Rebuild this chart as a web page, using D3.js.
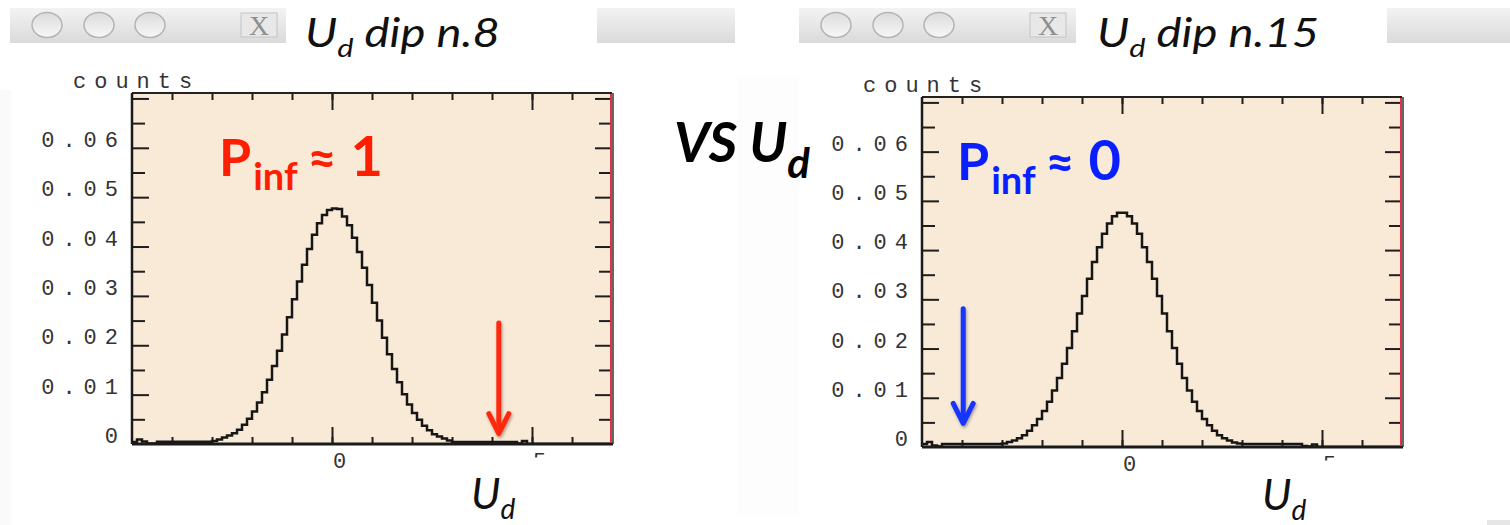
<!DOCTYPE html>
<html>
<head>
<meta charset="utf-8">
<script src="https://cdn.jsdelivr.net/npm/d3@7/dist/d3.min.js"></script>
<style>
  body { margin: 0; background: #fff; }
  svg { display: block; }
  .num { font-family: "Liberation Mono", "DejaVu Sans Mono", monospace; font-size: 22px; fill: #333; letter-spacing: 8px; }
  .tick line { stroke: #1e1e1e; stroke-width: 2; }
  .slide { font-family: Lato, "Open Sans", sans-serif; }
</style>
</head>
<body>
<svg id="chart" width="1510" height="525"></svg>
<script>
// histogram binning (x in U_d units)
var binStart = -5, binWidth = 0.125;

// normalised counts per bin, dip n.8
var countsDip8 = [
  0.0004, 0.0009, 0.0005, 0.0001, 0.0001,
  0.00045, 0.00045, 0.00045, 0.00045, 0.00045, 0.00045, 0.00045, 0.00045, 0.00045, 0.00045, 0.00045,
  0.0006, 0.0009, 0.0013, 0.0017, 0.0022, 0.0029, 0.0039, 0.0051, 0.0066, 0.0084, 0.0105, 0.0130,
  0.0158, 0.0189, 0.0222, 0.0257, 0.0293, 0.0329, 0.0363, 0.0395, 0.0424, 0.0447, 0.0464, 0.0474,
  0.0477, 0.0476, 0.0461, 0.0443, 0.0418, 0.0389, 0.0357, 0.0322, 0.0286, 0.0250, 0.0215, 0.0182,
  0.0152, 0.0125, 0.0101, 0.0080, 0.0063, 0.0049, 0.0037, 0.0028, 0.0020, 0.0015, 0.0011, 0.0007,
  0.0004, 0.0004, 0.0004, 0.0004, 0.0004, 0.0004, 0.0004, 0.0004, 0.0004, 0.0004, 0.0004, 0.0004, 0.0004,
  0.0001, 0.0006,
  0, 0, 0, 0, 0, 0, 0, 0, 0, 0, 0, 0, 0, 0, 0, 0, 0
];

// normalised counts per bin, dip n.15
var countsDip15 = [
  0.0006, 0.0010, 0.0003, 0.0001,
  0.0006, 0.0006, 0.0006, 0.0006, 0.0006, 0.0006, 0.0006, 0.0006, 0.0006, 0.0006, 0.0006, 0.0006,
  0.0007, 0.0010, 0.0013, 0.0018, 0.0024, 0.0033, 0.0044, 0.0057, 0.0073, 0.0092, 0.0115, 0.0140,
  0.0169, 0.0201, 0.0235, 0.0271, 0.0307, 0.0342, 0.0376, 0.0406, 0.0433, 0.0454, 0.0469, 0.0476,
  0.0476, 0.0469, 0.0454, 0.0433, 0.0406, 0.0376, 0.0342, 0.0307, 0.0271, 0.0235, 0.0201, 0.0169,
  0.0140, 0.0115, 0.0092, 0.0073, 0.0057, 0.0044, 0.0033, 0.0024, 0.0018, 0.0013, 0.0009, 0.0007,
  0.0006, 0.0006, 0.0006, 0.0006, 0.0006, 0.0006, 0.0006, 0.0006, 0.0006, 0.0006, 0.0006, 0.0006,
  0.0002, 0.0001, 0.0005,
  0, 0, 0, 0, 0, 0, 0, 0, 0, 0, 0, 0, 0, 0, 0, 0, 0
];

var xDomain = [-5, 7];
var yDomain = [0, 0.0711];
var xMinorTicks = [-4, -3, -2, -1, 0, 1, 2, 3, 4, 5, 6];
var xMajorTicks = [0, 5];
var yMinorTicks = [0.005, 0.015, 0.025, 0.035, 0.045, 0.055, 0.065];
var yMajorTicks = [0.01, 0.02, 0.03, 0.04, 0.05, 0.06, 0.07];
var yLabelValues = [0, 0.01, 0.02, 0.03, 0.04, 0.05, 0.06];
var yLabelText = ["0", "0.01", "0.02", "0.03", "0.04", "0.05", "0.06"];

// arrow markers: position in U_d and the counts range they span
var arrowDip8 = { x: 4.17, from: 0.0245, to: 0.0021, color: "#ff2a0c" };
var arrowDip15 = { x: -3.97, from: 0.0281, to: 0.0048, color: "#1434ff" };

var panels = [
  { title: " dip n.8", counts: countsDip8, arrow: arrowDip8, pinf: "1", pcolor: "#ff1e00",
    box: { left: 132, right: 612, top: 93, bottom: 444 }, bar: 10, barEnd: 286, grayFrom: 597, grayTo: 735,
    titleX: 305, pinfX: 219, pinfY: 176, labelX: 471, labelY: 509 },
  { title: " dip n.15", counts: countsDip15, arrow: arrowDip15, pinf: "0", pcolor: "#0a1fff",
    box: { left: 922, right: 1402, top: 97, bottom: 447 }, bar: 799, barEnd: 1076, grayFrom: 1387, grayTo: 1510,
    titleX: 1097, pinfX: 957, pinfY: 180, labelX: 1262, labelY: 510 }
];

var svg = d3.select("#chart");
var defs = svg.append("defs");

var grad = defs.append("linearGradient").attr("id", "barGrad").attr("x1", 0).attr("y1", 0).attr("x2", 0).attr("y2", 1);
grad.append("stop").attr("offset", "0%").attr("stop-color", "#f3f3f3");
grad.append("stop").attr("offset", "100%").attr("stop-color", "#dadada");

var cgrad = defs.append("linearGradient").attr("id", "btnGrad").attr("x1", 0).attr("y1", 0).attr("x2", 0).attr("y2", 1);
cgrad.append("stop").attr("offset", "0%").attr("stop-color", "#dcdcdc");
cgrad.append("stop").attr("offset", "100%").attr("stop-color", "#f7f7f7");

var shadow = defs.append("filter").attr("id", "arrowShadow").attr("x", "-50%").attr("y", "-20%").attr("width", "200%").attr("height", "140%");
shadow.append("feDropShadow").attr("dx", 1).attr("dy", 2).attr("stdDeviation", 1.5).attr("flood-color", "#000").attr("flood-opacity", 0.35);

// faint page artefacts
svg.append("rect").attr("x", 0).attr("y", 90).attr("width", 11).attr("height", 435).attr("fill", "#fafafa");
svg.append("rect").attr("x", 737).attr("y", 75).attr("width", 62).attr("height", 440).attr("fill", "#fdfdfd");
svg.append("rect").attr("x", 1487).attr("y", 520).attr("width", 23).attr("height", 5).attr("fill", "#e6e6e6");

panels.forEach(function(p, pi) {
  var b = p.box;
  var x = d3.scaleLinear().domain(xDomain).range([b.left, b.right]);
  var y = d3.scaleLinear().domain(yDomain).range([b.bottom, b.top]);
  var g = svg.append("g");

  // window title bar
  g.append("rect").attr("x", p.bar).attr("y", 8).attr("width", p.barEnd - p.bar).attr("height", 35).attr("fill", "url(#barGrad)");
  g.append("rect").attr("x", p.grayFrom).attr("y", 8).attr("width", p.grayTo - p.grayFrom).attr("height", 35).attr("fill", "url(#barGrad)");
  [37, 89, 140].forEach(function(dx) {
    g.append("ellipse").attr("cx", p.bar + dx).attr("cy", 25).attr("rx", 15).attr("ry", 12.5)
      .attr("fill", "url(#btnGrad)").attr("stroke", "#b4b4b4").attr("stroke-width", 1.5);
  });
  g.append("rect").attr("x", p.bar + 231).attr("y", 13).attr("width", 36).attr("height", 24)
    .attr("fill", "#e8e8e8").attr("stroke", "#c4c4c4");
  g.append("text").attr("x", p.bar + 249).attr("y", 35).attr("text-anchor", "middle")
    .style("font-family", "Liberation Serif, serif").style("font-size", "28px").style("fill", "#8e8e8e").text("X");

  // title  U_d dip n.x (slide font is a stretched italic)
  var t = g.append("text").attr("class", "slide").attr("transform", "translate(" + p.titleX + ",47) scale(1.18,1)")
    .style("font-style", "italic").style("font-size", "40px").style("fill", "#111");
  t.append("tspan").text("U");
  t.append("tspan").attr("dy", 10).style("font-size", "26px").text("d");
  t.append("tspan").attr("dy", -10).text(p.title);

  // plot area
  g.append("rect").attr("x", b.left).attr("y", b.top).attr("width", b.right - b.left).attr("height", b.bottom - b.top)
    .attr("fill", "#f8ead7");

  var clipId = "clip" + pi;
  defs.append("clipPath").attr("id", clipId).append("rect")
    .attr("x", b.left).attr("y", b.top).attr("width", b.right - b.left).attr("height", b.bottom - b.top);

  // ticks on all four sides, pointing inward
  function strip(sel) { sel.select(".domain").remove(); }
  g.append("g").attr("transform", "translate(0," + b.bottom + ")")
    .call(d3.axisBottom(x).tickValues(xMinorTicks).tickSize(-7).tickFormat("")).call(strip);
  g.append("g").attr("transform", "translate(0," + b.bottom + ")")
    .call(d3.axisBottom(x).tickValues(xMajorTicks).tickSize(-17).tickFormat("")).call(strip);
  g.append("g").attr("transform", "translate(0," + b.top + ")")
    .call(d3.axisTop(x).tickValues(xMinorTicks).tickSize(-7).tickFormat("")).call(strip);
  g.append("g").attr("transform", "translate(0," + b.top + ")")
    .call(d3.axisTop(x).tickValues(xMajorTicks).tickSize(-17).tickFormat("")).call(strip);
  g.append("g").attr("transform", "translate(" + b.left + ",0)")
    .call(d3.axisLeft(y).tickValues(yMinorTicks).tickSize(-13).tickFormat("")).call(strip);
  g.append("g").attr("transform", "translate(" + b.left + ",0)")
    .call(d3.axisLeft(y).tickValues(yMajorTicks).tickSize(-17).tickFormat("")).call(strip);
  g.append("g").attr("transform", "translate(" + b.right + ",0)")
    .call(d3.axisRight(y).tickValues(yMinorTicks).tickSize(-13).tickFormat("")).call(strip);
  g.append("g").attr("transform", "translate(" + b.right + ",0)")
    .call(d3.axisRight(y).tickValues(yMajorTicks).tickSize(-17).tickFormat("")).call(strip);

  // histogram
  var pts = p.counts.map(function(v, i) { return [binStart + i * binWidth, v]; });
  pts.push([binStart + p.counts.length * binWidth, p.counts[p.counts.length - 1]]);
  var line = d3.line().x(function(d) { return x(d[0]); }).y(function(d) { return y(d[1]); }).curve(d3.curveStepAfter);
  g.append("path").datum(pts).attr("d", line).attr("clip-path", "url(#" + clipId + ")")
    .attr("fill", "none").attr("stroke", "#161616").attr("stroke-width", 2.5);

  // frame
  g.append("line").attr("x1", b.left).attr("x2", b.right).attr("y1", b.top).attr("y2", b.top).attr("stroke", "#222").attr("stroke-width", 2);
  g.append("line").attr("x1", b.left).attr("x2", b.right + 1).attr("y1", b.bottom).attr("y2", b.bottom).attr("stroke", "#1a1a1a").attr("stroke-width", 3);
  g.append("line").attr("x1", b.left).attr("x2", b.left).attr("y1", b.top).attr("y2", b.bottom).attr("stroke", "#1a1a1a").attr("stroke-width", 2.5);
  g.append("line").attr("x1", b.right + 1).attr("x2", b.right + 1).attr("y1", b.top).attr("y2", b.bottom).attr("stroke", "#333").attr("stroke-width", 1.5);
  g.append("line").attr("x1", b.right - 1).attr("x2", b.right - 1).attr("y1", b.top + 1).attr("y2", b.bottom - 1).attr("stroke", "#e0334a").attr("stroke-width", 2);

  // y labels
  g.selectAll(".ylab").data(yLabelValues).enter().append("text").attr("class", "num")
    .attr("x", b.left - 6).attr("y", function(d) { return y(d) - 1; }).attr("text-anchor", "end")
    .text(function(d, i) { return yLabelText[i]; });

  // x labels (the 5 is cut off in the original window)
  var lclip = "lclip" + pi;
  defs.append("clipPath").attr("id", lclip).append("rect")
    .attr("x", b.left).attr("y", b.bottom).attr("width", x(5) - b.left).attr("height", 40);
  defs.append("clipPath").attr("id", lclip + "b").append("rect")
    .attr("x", x(5)).attr("y", b.bottom).attr("width", 40).attr("height", 13.5);
  g.selectAll(".xlab").data(xMajorTicks).enter().append("text").attr("class", "num")
    .attr("x", function(d) { return x(d) + 1; }).attr("y", b.bottom + 24)
    .attr("clip-path", function(d) { return d === 5 ? "url(#" + lclip + "b)" : "url(#" + lclip + ")"; })
    .text(function(d) { return d; });

  g.append("text").attr("class", "num").attr("x", b.left - 59).attr("y", b.top - 5).text("counts");

  // U_d axis title
  var ax = g.append("text").attr("class", "slide").attr("x", p.labelX).attr("y", p.labelY)
    .style("font-style", "italic").style("font-size", "43px").style("fill", "#111");
  ax.append("tspan").text("U");
  ax.append("tspan").attr("dy", 10).style("font-size", "28px").text("d");

  // P_inf annotation
  var pt = g.append("text").attr("class", "slide").attr("x", p.pinfX).attr("y", p.pinfY)
    .style("font-weight", "bold").style("font-size", "52px").style("fill", p.pcolor);
  pt.append("tspan").text("P");
  pt.append("tspan").attr("dy", 14).attr("dx", 2).style("font-size", "38px").text("inf");
  pt.append("tspan").attr("dy", -14).attr("dx", 10).style("font-size", "50px").text("\u2248");
  pt.append("tspan").attr("dx", 14).style("font-size", "56px").text(p.pinf);

  // arrow
  var a = p.arrow, ax0 = x(a.x), yTip = y(a.to);
  var ag = g.append("g").attr("filter", "url(#arrowShadow)").attr("stroke", a.color).attr("stroke-width", 5)
    .attr("fill", "none").attr("stroke-linecap", "round").attr("stroke-linejoin", "round");
  ag.append("line").attr("x1", ax0).attr("x2", ax0).attr("y1", y(a.from)).attr("y2", yTip - 2);
  ag.append("polyline").attr("points", [[ax0 - 10, yTip - 20], [ax0, yTip], [ax0 + 10, yTip - 20]].join(" "));
});

// VS U_d
var vs = svg.append("text").attr("class", "slide").attr("x", 674).attr("y", 162)
  .style("font-weight", "bold").style("font-style", "italic").style("font-size", "55px").style("fill", "#000");
vs.append("tspan").text("VS U");
vs.append("tspan").attr("dy", 16).style("font-size", "42px").text("d");
</script>
</body>
</html>
